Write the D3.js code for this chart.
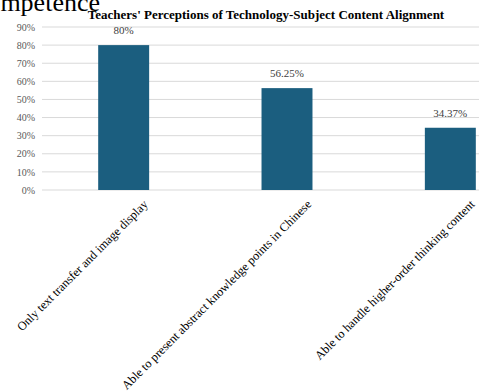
<!DOCTYPE html>
<html lang="en">
<head>
  <meta charset="UTF-8">
  <title>Teachers' Perceptions of Technology-Subject Content Alignment</title>
  <style>
    html, body { margin: 0; padding: 0; background: #fff; overflow: hidden; }
    svg { display: block; }
  </style>
</head>
<body>
  <div id="chart"></div>
  <script src="https://d3js.org/d3.v7.min.js"></script>
  <script>
    var categories = [
      'Only text transfer and image display',
      'Able to present abstract knowledge points in Chinese',
      'Able to handle higher-order thinking content'
    ]
    var values = [80, 56.25, 34.37]
    var valueLabels = ['80%', '56.25%', '34.37%']
    var yTicks = [0, 10, 20, 30, 40, 50, 60, 70, 80, 90]

    var width = 479, height = 392
    var serif = '"Liberation Serif", "Times New Roman", serif'

    var svg = d3.select('#chart').append('svg')
      .attr('width', width)
      .attr('height', height)

    // cut-off heading from the page above the chart
    svg.append('text')
      .attr('x', 100)
      .attr('y', 11)
      .attr('text-anchor', 'end')
      .attr('font-family', serif)
      .attr('font-size', 26)
      .attr('fill', '#000')
      .text('Competence')

    svg.append('text')
      .attr('x', 266)
      .attr('y', 19)
      .attr('text-anchor', 'middle')
      .attr('font-family', serif)
      .attr('font-weight', 'bold')
      .attr('font-size', 13)
      .attr('fill', '#000')
      .text("Teachers' Perceptions of Technology-Subject Content Alignment")

    var x = d3.scaleBand()
      .domain(categories)
      .range([42, 532])
      .paddingInner(0.688)
      .paddingOuter(0.344)

    var y = d3.scaleLinear()
      .domain([0, 90])
      .range([190, 27])

    // gridlines
    svg.append('g')
      .selectAll('line')
      .data(yTicks)
      .enter()
      .append('line')
      .attr('x1', 42)
      .attr('x2', width)
      .attr('y1', function (d) { return y(d) })
      .attr('y2', function (d) { return y(d) })
      .attr('stroke', '#d9d9d9')
      .attr('stroke-width', 1)

    var yAxis = d3.axisLeft(y)
      .tickValues(yTicks)
      .tickSize(0)
      .tickPadding(7)
      .tickFormat(function (d) { return d + '%' })

    var gy = svg.append('g')
      .attr('transform', 'translate(42,0)')
      .call(yAxis)
    gy.select('.domain').remove()
    gy.selectAll('text')
      .attr('font-family', serif)
      .attr('font-size', 10)
      .attr('fill', '#595959')

    svg.append('g')
      .selectAll('rect')
      .data(values)
      .enter()
      .append('rect')
      .attr('x', function (d, i) { return x(categories[i]) })
      .attr('y', function (d) { return y(d) })
      .attr('width', x.bandwidth())
      .attr('height', function (d) { return y(0) - y(d) })
      .attr('fill', '#1b5e7f')

    svg.append('g')
      .selectAll('text')
      .data(values)
      .enter()
      .append('text')
      .attr('x', function (d, i) { return x(categories[i]) + x.bandwidth() / 2 })
      .attr('y', function (d) { return y(d) - 11 })
      .attr('text-anchor', 'middle')
      .attr('font-family', serif)
      .attr('font-size', 11)
      .attr('fill', '#404040')
      .text(function (d, i) { return valueLabels[i] })

    // rotated category labels
    svg.append('g')
      .selectAll('text')
      .data(categories)
      .enter()
      .append('text')
      .attr('transform', function (d) {
        var cx = x(d) + x.bandwidth() / 2 + 25
        return 'translate(' + cx + ',205) rotate(-45)'
      })
      .attr('text-anchor', 'end')
      .attr('font-family', serif)
      .attr('font-size', 12.3)
      .attr('fill', '#000')
      .text(function (d) { return d })
  </script>
</body>
</html>
